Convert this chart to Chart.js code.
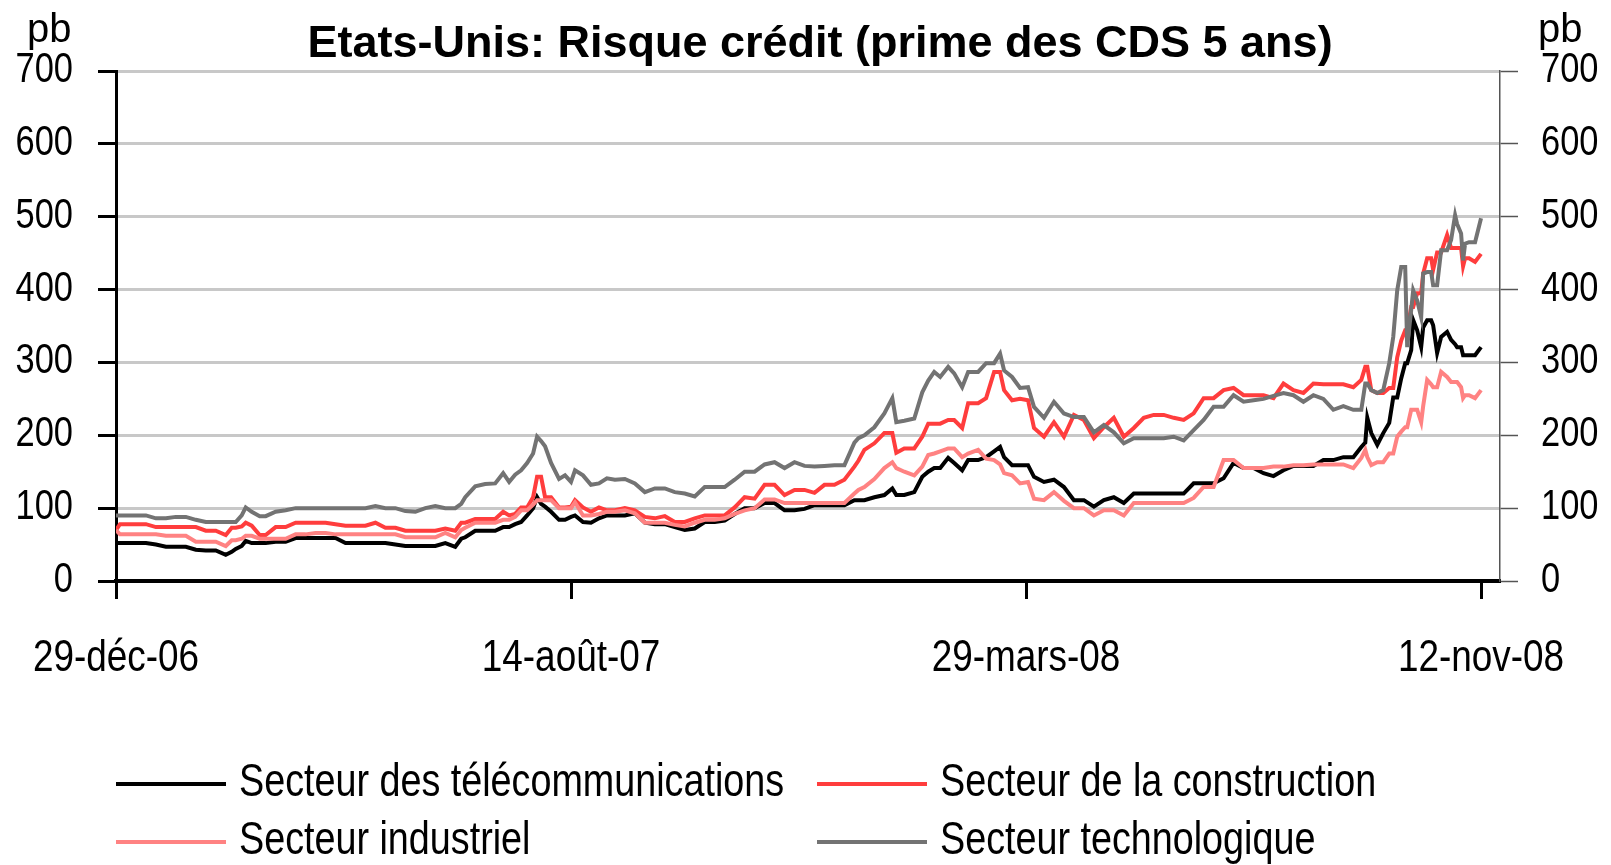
<!DOCTYPE html>
<html>
<head>
<meta charset="utf-8">
<title>Etats-Unis: Risque crédit</title>
<script src="https://cdn.jsdelivr.net/npm/chart.js@4.4.1/dist/chart.umd.min.js"></script>
<style>
  body { margin: 0; background: #fff; }
  #wrap { position: relative; width: 1611px; height: 865px; color: #000;
          font-family: 'Liberation Sans', sans-serif; }
  #cds { position: absolute; left: 0; top: 0; }
  .title { position: absolute; left: 820px; top: 19px; transform: translateX(-50%);
           font: bold 45px 'Liberation Sans', sans-serif; line-height: 1; white-space: nowrap; }
  .unit { position: absolute; top: 8px; font: 40px 'Liberation Sans', sans-serif; line-height: 1; }
  .legend-item { position: absolute; font-size: 46px; line-height: 1; white-space: nowrap; }
  .legend-line { display: inline-block; width: 110px; height: 4px; vertical-align: middle; margin-right: 13px; }
  /* no narrow face installed: squeeze Liberation Sans to Arial Narrow widths */
  .legend-text { display: inline-block; transform: scaleX(0.82); transform-origin: 0 50%; }
</style>
</head>
<body>
<div id="wrap">
  <canvas id="cds" width="1611" height="865"></canvas>
  <div class="title">Etats-Unis: Risque crédit (prime des CDS 5 ans)</div>
  <div class="unit" style="left:27px">pb</div>
  <div class="unit" style="left:1538px">pb</div>
  <div id="legend"></div>
</div>
<script>
// days since 29-déc-06
const days = [
  0, 2, 5, 10, 15, 20, 25, 30, 35, 40,
  45, 50, 55, 58, 60, 63, 65, 68, 72, 75,
  80, 85, 90, 95, 100, 105, 110, 115, 120, 125,
  130, 135, 140, 145, 150, 155, 160, 165, 170, 173,
  175, 180, 185, 190, 194, 197, 200, 203, 206, 209,
  211, 213, 215, 218, 222, 225, 228, 230, 234, 238,
  242, 246, 250, 255, 260, 265, 270, 275, 280, 285,
  290, 295, 300, 305, 310, 315, 320, 325, 330, 335,
  340, 345, 350, 355, 360, 365, 370, 372, 375, 380,
  385, 389, 391, 395, 400, 404, 407, 410, 413, 417,
  420, 424, 427, 432, 436, 440, 443, 445, 449, 453,
  457, 460, 465, 470, 475, 480, 485, 490, 495, 500,
  505, 510, 515, 520, 525, 530, 535, 540, 545, 550,
  555, 560, 565, 570, 575, 580, 585, 590, 595, 600,
  605, 610, 615, 620, 624, 626, 627, 629, 632, 635,
  638, 640, 642, 644, 646, 647, 649, 650, 652, 654,
  655, 657, 659, 660, 662, 664, 667, 669, 671, 672,
  674, 675, 676, 678, 681, 684
];

const telecom = [
  52, 52, 52, 52, 52, 50, 47, 47, 47, 43,
  42, 42, 36, 40, 44, 48, 55, 52, 52, 52,
  54, 54, 59, 59, 59, 59, 59, 52, 52, 52,
  52, 52, 50, 48, 48, 48, 48, 52, 47, 58,
  60, 69, 69, 69, 74, 74, 78, 81, 90, 100,
  115, 106, 102, 95, 84, 84, 88, 90, 81, 80,
  86, 90, 90, 90, 93, 80, 78, 78, 74, 70,
  72, 81, 81, 83, 92, 100, 100, 107, 107, 97,
  97, 99, 104, 104, 104, 104, 111, 111, 111, 115,
  118, 127, 118, 118, 122, 143, 150, 155, 155, 169,
  162, 152, 166, 166, 170, 178, 184, 170, 159, 159,
  159, 143, 136, 139, 129, 111, 111, 102, 111, 115,
  107, 120, 120, 120, 120, 120, 120, 134, 134, 134,
  141, 162, 155, 155, 148, 144, 152, 158, 158, 158,
  166, 166, 170, 170, 184, 190, 224, 203, 187, 203,
  217, 252, 252, 278, 299, 299, 317, 358, 344, 321,
  348, 358, 358, 351, 313, 335, 342, 331, 325, 321,
  321, 310, 310, 310, 310, 321
];

const construction = [
  70, 78, 78, 78, 78, 74, 74, 74, 74, 74,
  69, 69, 63, 73, 73, 75, 80, 76, 63, 63,
  74, 74, 80, 80, 80, 80, 78, 76, 76, 76,
  80, 73, 73, 69, 69, 69, 69, 72, 69, 80,
  80, 85, 85, 85, 95, 90, 92, 101, 101, 115,
  143, 143, 115, 115, 101, 101, 102, 111, 101, 95,
  101, 97, 97, 100, 97, 88, 86, 89, 81, 81,
  86, 90, 90, 90, 101, 115, 113, 132, 132, 118,
  125, 125, 121, 132, 132, 139, 157, 165, 180, 189,
  203, 203, 176, 182, 182, 198, 216, 216, 216, 221,
  221, 210, 244, 244, 251, 287, 287, 262, 248, 250,
  248, 210, 198, 218, 198, 228, 221, 196, 211, 224,
  198, 210, 224, 228, 228, 224, 221, 230, 251, 251,
  262, 265, 255, 255, 255, 251, 271, 262, 258, 271,
  270, 270, 270, 266, 276, 294, 294, 262, 258, 258,
  265, 265, 307, 330, 344, 344, 376, 376, 395, 395,
  422, 443, 443, 427, 451, 451, 475, 457, 457, 457,
  457, 432, 443, 443, 438, 449
];

const industriel = [
  70, 64, 64, 64, 64, 64, 62, 62, 62, 54,
  54, 54, 48, 56, 56, 58, 62, 62, 58, 58,
  58, 58, 64, 64, 66, 66, 64, 64, 64, 64,
  64, 64, 64, 60, 60, 60, 60, 66, 60, 70,
  73, 80, 80, 80, 84, 84, 88, 97, 97, 105,
  111, 111, 111, 111, 100, 100, 100, 108, 90, 90,
  92, 95, 95, 97, 93, 80, 80, 80, 77, 75,
  80, 84, 84, 86, 92, 97, 100, 112, 112, 107,
  107, 107, 107, 107, 107, 107, 120, 125, 129, 140,
  155, 163, 155, 150, 145, 157, 173, 175, 178, 182,
  182, 170, 175, 180, 168, 166, 160, 148, 145, 134,
  136, 113, 111, 122, 110, 100, 100, 90, 97, 97,
  90, 107, 107, 107, 107, 107, 107, 114, 129, 129,
  166, 166, 155, 155, 155, 157, 157, 159, 159, 160,
  160, 160, 160, 155, 169, 180, 170, 159, 163, 163,
  175, 175, 198, 205, 211, 211, 235, 235, 235, 218,
  240, 276, 270, 266, 266, 287, 280, 273, 273, 273,
  266, 251, 255, 255, 251, 262
];

const technologique = [
  90, 90, 90, 90, 90, 86, 86, 88, 88, 84,
  81, 81, 81, 81, 81, 90, 101, 95, 89, 89,
  95, 97, 100, 100, 100, 100, 100, 100, 100, 100,
  103, 100, 100, 96, 95, 100, 103, 100, 100, 106,
  115, 130, 133, 134, 148, 136, 146, 152, 162, 175,
  198, 192, 185, 162, 140, 145, 136, 152, 145, 132,
  134, 141, 139, 140, 134, 122, 127, 127, 122, 120,
  116, 129, 129, 129, 139, 150, 150, 160, 163, 155,
  163, 158, 157, 158, 159, 159, 190, 196, 200, 211,
  230, 251, 218, 220, 223, 259, 275, 287, 280, 294,
  285, 266, 287, 287, 299, 299, 312, 289, 280, 265,
  266, 239, 224, 246, 230, 225, 225, 204, 214, 204,
  189, 196, 196, 196, 196, 198, 193, 207, 221, 239,
  239, 255, 246, 248, 250, 254, 258, 255, 246, 255,
  250, 235, 240, 235, 235, 271, 271, 262, 258, 262,
  299, 335, 399, 431, 431, 321, 372, 399, 385, 362,
  422, 424, 424, 406, 406, 454, 454, 468, 502, 490,
  477, 440, 463, 465, 465, 498
];

const tickDays = [0, 228, 456, 684];
const tickLabels = ['29-déc-06', '14-août-07', '29-mars-08', '12-nov-08'];

const FONT = "'Liberation Sans', sans-serif";
const SQUEEZE = 0.82;   // Arial -> Arial Narrow width

function toPoints(values) {
    return days.map((d, i) => ({ x: d, y: values[i] }));
}

// tick labels in narrow type, drawn at the positions the scales give
const narrowTicks = {
    id: 'narrowTicks',
    afterDraw(chart) {
        const c = chart.ctx;
        const area = chart.chartArea;
        const put = (text, x, y, align, size) => {
            c.save();
            c.font = size + 'px ' + FONT;
            c.textAlign = align;
            c.textBaseline = 'alphabetic';
            c.translate(x, y);
            c.scale(SQUEEZE, 1);
            c.fillText(text, 0, 0);
            c.restore();
        };
        c.fillStyle = '#000';
        chart.scales.x.ticks.forEach(t => {
            put(tickLabels[tickDays.indexOf(t.value)], chart.scales.x.getPixelForValue(t.value), area.bottom + 90, 'center', 45);
        });
        chart.scales.y.ticks.forEach(t => {
            put(String(t.value), area.left - 43, chart.scales.y.getPixelForValue(t.value) + 11, 'right', 42);
        });
        chart.scales.y2.ticks.forEach(t => {
            put(String(t.value), area.right + 41, chart.scales.y2.getPixelForValue(t.value) + 11, 'left', 42);
        });
    }
};

const series = [
    { label: 'Secteur des télécommunications', values: telecom, color: '#000000', order: 4 },
    { label: 'Secteur de la construction', values: construction, color: '#ff3d3d', order: 3 },
    { label: 'Secteur industriel', values: industriel, color: '#ff8282', order: 2 },
    { label: 'Secteur technologique', values: technologique, color: '#737373', order: 1 }
];

const ctx = document.getElementById('cds').getContext('2d');
const chart = new Chart(ctx, {
    type: 'line',
    data: {
        datasets: series.map(s => ({
            label: s.label,
            data: toPoints(s.values),
            borderColor: s.color,
            backgroundColor: s.color,
            borderWidth: 4,
            pointRadius: 0,
            tension: 0,
            fill: false,
            order: s.order
        }))
    },
    options: {
        responsive: false,
        animation: false,
        layout: { padding: { top: 71, left: 0, right: 0, bottom: 0 } },
        plugins: { legend: { display: false }, tooltip: { enabled: false } },
        scales: {
            x: {
                type: 'linear', min: 0, max: 693.5,
                afterBuildTicks: axis => { axis.ticks = tickDays.map(value => ({ value })); },
                afterFit: scale => { scale.height = 284; },
                grid: { drawOnChartArea: false, tickLength: 18, tickWidth: 3, tickColor: '#000' },
                border: { color: '#000', width: 4 },
                ticks: { display: false }
            },
            y: {
                position: 'left', min: 0, max: 700,
                afterFit: scale => { scale.width = 116; },
                ticks: { stepSize: 100, display: false },
                grid: { color: '#c8c8c8', lineWidth: 3, tickLength: 18, tickColor: '#000', tickWidth: 3 },
                border: { color: '#000', width: 3 }
            },
            y2: {
                position: 'right', min: 0, max: 700,
                afterFit: scale => { scale.width = 111; },
                ticks: { stepSize: 100, display: false },
                grid: { drawOnChartArea: false, tickLength: 18, tickColor: '#555', tickWidth: 1.5 },
                border: { color: '#555', width: 1.5 }
            }
        }
    },
    plugins: [narrowTicks]
});

// legend: 2 columns x 2 rows, built from the datasets
const legendCols = [116, 817];
const legendTops = [757, 815];
const legend = document.getElementById('legend');
chart.data.datasets.forEach((ds, i) => {
    const item = document.createElement('div');
    item.className = 'legend-item';
    item.style.left = legendCols[i % 2] + 'px';
    item.style.top = legendTops[Math.floor(i / 2)] + 'px';
    const line = document.createElement('span');
    line.className = 'legend-line';
    line.style.background = ds.borderColor;
    const text = document.createElement('span');
    text.className = 'legend-text';
    text.textContent = ds.label;
    item.appendChild(line);
    item.appendChild(text);
    legend.appendChild(item);
});
</script>
</body>
</html>
